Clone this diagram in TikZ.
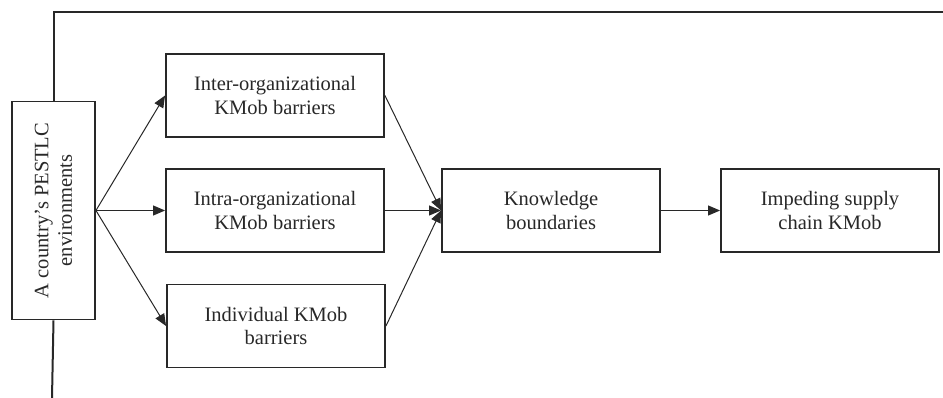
\documentclass[tikz,border=0pt]{standalone}
\usepackage{fontspec}
\setmainfont{Liberation Serif}
\usetikzlibrary{arrows.meta}
\definecolor{ink}{RGB}{40,40,40}
\begin{document}
\begin{tikzpicture}[x=1pt,y=-1pt,
  font=\fontsize{20.5}{23.5}\selectfont, text=ink,
  stepbox/.style={draw=ink, line width=1.9pt, inner sep=0pt, align=center,
                  minimum width=218pt, minimum height=83pt},
  flow/.style={draw=ink, line width=1pt, -{Triangle[length=12pt,width=10pt]}},
  frame/.style={draw=ink, line width=2pt}]
\useasboundingbox (0,0) rectangle (943,398);

% environment box (rotated text)
\node[stepbox, rotate=90] (env) at (53.5,210.5) {A country's PESTLC\\environments};

% barrier boxes
\node[stepbox] (inter) at (275,95.5) {Inter-organizational\\KMob barriers};
\node[stepbox] (intra) at (275,210.5) {Intra-organizational\\KMob barriers};
\node[stepbox] (indiv) at (276,326) {Individual KMob\\barriers};

% outcome boxes
\node[stepbox] (know) at (551,210.5) {Knowledge\\boundaries};
\node[stepbox] (imped) at (830,210.5) {Impeding supply\\chain KMob};

% enclosing frame line
\coordinate (topright) at (943,11.7);
\coordinate (bottomend) at (52,398);
\draw[frame] (env.east) |- (topright);
\draw[frame] (env.west) -- (bottomend);

% flows
\draw[flow] (env.south) -- (inter.west);
\draw[flow] (env.south) -- (intra.west);
\draw[flow] (env.south) -- (indiv.west);
\draw[flow] (inter.east) -- (know.west);
\draw[flow] (intra.east) -- (know.west);
\draw[flow] (indiv.east) -- (know.west);
\draw[flow] (know.east) -- (imped.west);
\end{tikzpicture}
\end{document}
